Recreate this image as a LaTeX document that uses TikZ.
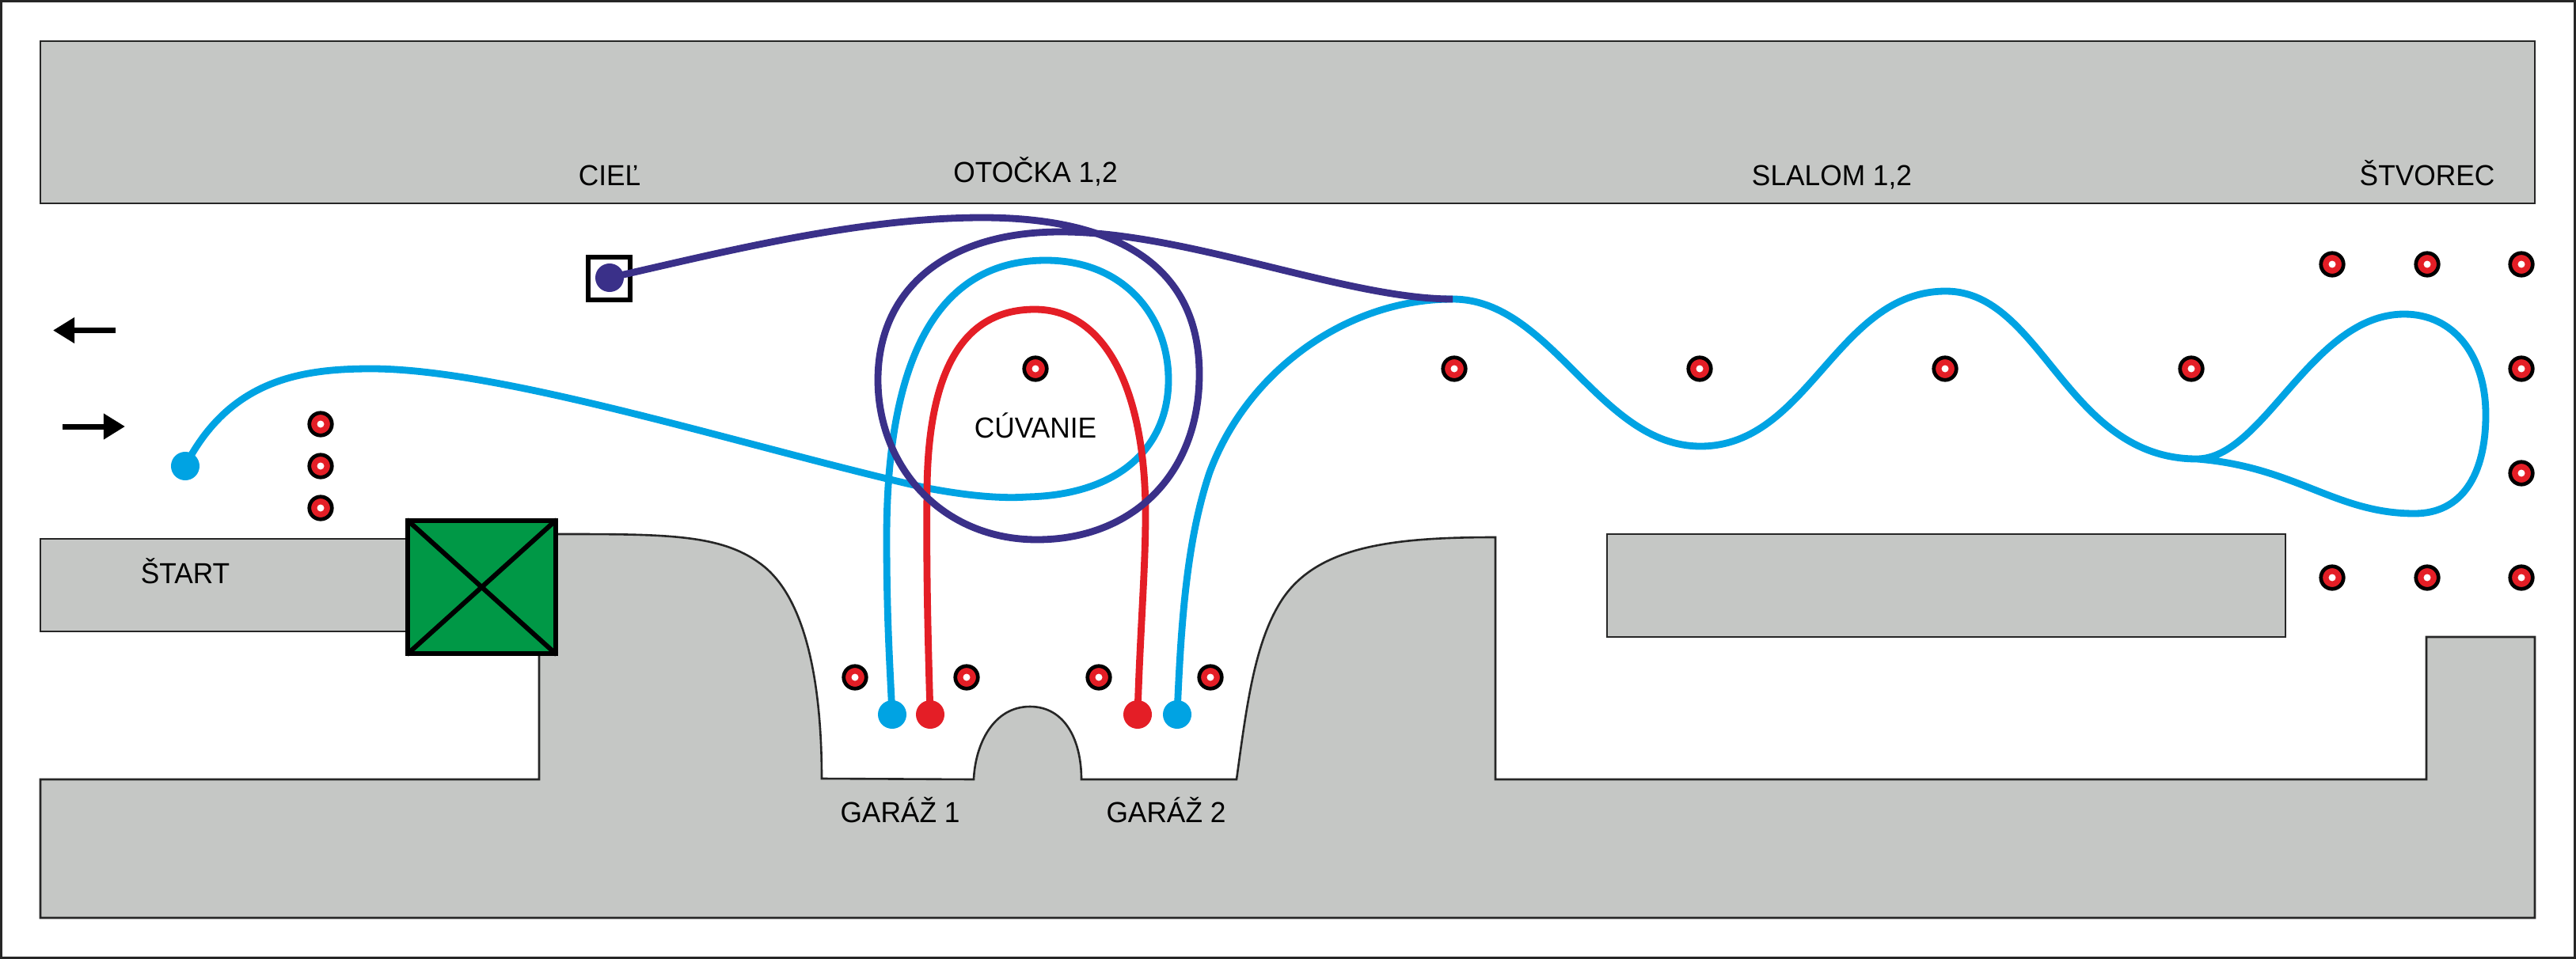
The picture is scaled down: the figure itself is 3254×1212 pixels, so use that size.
\documentclass[tikz,border=0pt]{standalone}
\usepackage{fontspec}
\setmainfont[FakeStretch=0.965]{Liberation Sans}
\usetikzlibrary{arrows.meta}
\definecolor{wallgray}{HTML}{C5C7C5}
\definecolor{pathblue}{HTML}{00A3E3}
\definecolor{pathpurple}{HTML}{3A3089}
\definecolor{pathred}{HTML}{E41E26}
\definecolor{gategreen}{HTML}{009846}
\tikzset{
  x=0.01cm,y=-0.01cm,
  wall/.style={fill=wallgray,draw=black!85,line width=0.026cm,line join=miter},
  conemark/.style={circle,draw=black,fill=pathred,line width=0.047cm,inner sep=0pt,minimum size=0.285cm,
    path picture={\fill[white] (path picture bounding box.center) circle (0.045cm);}},
  route/.style={line width=0.088cm,line cap=round,line join=round},
  dotmark/.style={circle,inner sep=0pt,minimum size=0.36cm,draw=none},
  lbl/.style={anchor=base,inner sep=0pt,font=\fontsize{10.4pt}{12pt}\selectfont,text=black},
  dirarrow/.style={line width=0.07cm,-{Triangle[length=0.27cm,width=0.31cm]}},
}
\begin{document}
\begin{tikzpicture}
\useasboundingbox (0,0) rectangle (3254,1212);
\fill[white] (0,0) rectangle (3254,1212);
\draw[line width=0.028cm,draw=black!85] (1.5,1.5) rectangle (3252.5,1210.5);

% walls
\draw[wall] (51,52) rectangle (3202,257);
\draw[wall] (51,681) rectangle (540,798);
\draw[wall] (2030,675) rectangle (2887,805);
\draw[wall] (51,985) -- (681,985) -- (681,800) -- (700,675)
  -- (705,675) .. controls (840,675) and (910,675) .. (960,712)
  .. controls (1020,755) and (1038,870) .. (1038,984)
  -- (1230,985) .. controls (1232,940) and (1255,893) .. (1301,893)
  .. controls (1345,893) and (1366,935) .. (1366,985)
  -- (1562,985) .. controls (1575,890) and (1585,810) .. (1620,757)
  .. controls (1665,690) and (1760,679) .. (1889,679)
  -- (1889,985) -- (3065,985) -- (3065,805) -- (3202,805) -- (3202,1160) -- (51,1160) -- cycle;

% gate
\node[draw=black,fill=gategreen,line width=0.065cm,minimum width=1.87cm,minimum height=1.68cm,inner sep=0pt] (gate) at (608.5,742) {};
\draw[black,line width=0.06cm,shorten <=0.03cm,shorten >=0.03cm] (gate.north west) -- (gate.south east);
\draw[black,line width=0.06cm,shorten <=0.03cm,shorten >=0.03cm] (gate.north east) -- (gate.south west);

% finish square
\node[draw=black,fill=white,line width=0.06cm,minimum width=0.53cm,minimum height=0.54cm,inner sep=0pt] (finish) at (769.5,352) {};

% cones
\foreach \n/\cx/\cy in {a/405/536,b/405/589,c/405/642,
  d/1080/856,e/1221/856,f/1388/856,g/1529/856,
  h/1308/466,i/1837/466,j/2147/466,k/2457/466,l/2768/466,
  m/2946/334,n/3066/334,o/3185/334,p/3185/466,q/3185/598,
  r/2946/730,s/3066/730,t/3185/730}
  \node[conemark] (cone\n) at (\cx,\cy) {};

% dots
\node[dotmark,fill=pathblue] (startdot) at (234,589) {};
\node[dotmark,fill=pathblue] (gone) at (1127,903) {};
\node[dotmark,fill=pathred] (rone) at (1175,903) {};
\node[dotmark,fill=pathred] (rtwo) at (1437,903) {};
\node[dotmark,fill=pathblue] (gtwo) at (1487,903) {};
\node[dotmark,fill=pathpurple] (enddot) at (770,351) {};
\coordinate (junction) at (1835,378);
\coordinate (loopjoin) at (2775,580);

% blue routes
\draw[route,pathblue] (startdot.center) .. controls (290,480) and (380,466) .. (469,466)
  .. controls (640,466) and (960,570) .. (1172,617)
  .. controls (1230,628) and (1270,630) .. (1298,628)
  .. controls (1420,625) and (1476,560) .. (1476,480)
  .. controls (1476,400) and (1420,329) .. (1321,329)
  .. controls (1170,329) and (1120,480) .. (1120,680)
  .. controls (1120,780) and (1124,840) .. (gone.center);
\draw[route,pathblue] (gtwo.center) .. controls (1492,780) and (1500,680) .. (1528,597)
  .. controls (1575,470) and (1700,378) .. (junction)
  .. controls (1960,378) and (2020,564) .. (2148,564)
  .. controls (2285,564) and (2320,368) .. (2458,368)
  .. controls (2580,368) and (2610,580) .. (loopjoin)
  .. controls (2860,580) and (2920,397) .. (3037,397)
  .. controls (3100,397) and (3140,450) .. (3140,524)
  .. controls (3140,600) and (3110,649) .. (3050,649)
  .. controls (2950,649) and (2900,590) .. (loopjoin);

% red route
\draw[route,pathred] (rone.center) .. controls (1172,800) and (1170,720) .. (1171,620)
  .. controls (1172,480) and (1210,391) .. (1307,391)
  .. controls (1400,391) and (1447,500) .. (1447,650)
  .. controls (1447,720) and (1440,800) .. (rtwo.center);

% purple route
\draw[route,pathpurple,line cap=butt] (enddot.center) .. controls (900,322) and (1080,275) .. (1241,275)
  .. controls (1350,275) and (1515,300) .. (1515,473)
  .. controls (1515,600) and (1430,682) .. (1310,682)
  .. controls (1190,682) and (1109,590) .. (1109,480)
  .. controls (1109,370) and (1190,293) .. (1340,293)
  .. controls (1500,293) and (1700,378) .. (junction);

% direction arrows
\coordinate (lefttail) at (146,417.5);
\coordinate (lefttip) at (67,417.5);
\coordinate (righttail) at (79,539);
\coordinate (righttip) at (158,539);
\draw[dirarrow] (lefttail) -- (lefttip);
\draw[dirarrow] (righttail) -- (righttip);

% labels
\node[lbl] (tcie) at (770,234) {CIEĽ};
\node[lbl] (toto) at (1308,230) {OTOČKA 1,2};
\node[lbl] (tsla) at (2314,234) {SLALOM 1,2};
\node[lbl] (tstv) at (3066,234) {ŠTVOREC};
\node[lbl] (tcuv) at (1308,553) {CÚVANIE};
\node[lbl] (tsta) at (234,737) {ŠTART};
\node[lbl] (tga1) at (1137,1039) {GARÁŽ 1};
\node[lbl] (tga2) at (1473,1039) {GARÁŽ 2};
\end{tikzpicture}
\end{document}
